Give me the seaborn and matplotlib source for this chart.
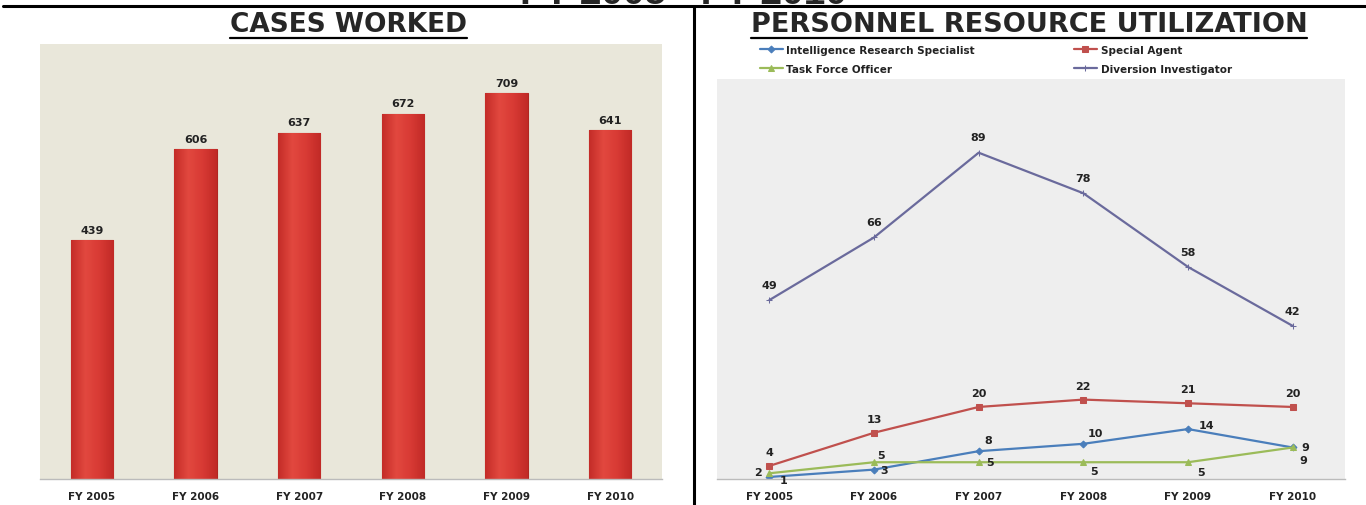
import pandas as pd
import numpy as np
import matplotlib
matplotlib.use("Agg")
import matplotlib.pyplot as plt
from matplotlib.lines import Line2D
from matplotlib.colors import LinearSegmentedColormap
import seaborn as sns

# data
years = ["FY 2005", "FY 2006", "FY 2007", "FY 2008", "FY 2009", "FY 2010"]
cases_worked = [439, 606, 637, 672, 709, 641]

irs = [1, 3, 8, 10, 14, 9]          # Intelligence Research Specialist
special_agent = [4, 13, 20, 22, 21, 20]
task_force = [2, 5, 5, 5, 5, 9]
diversion = [49, 66, 89, 78, 58, 42]

sns.set_style("white")
plt.rcParams['font.family'] = ['DejaVu Sans']

fig = plt.figure(figsize=(13.66, 5.06), dpi=100)
fig.patch.set_facecolor("white")

# ---------- left: cases worked ----------
ax1 = fig.add_axes([40 / 1366, 1 - 480 / 506, 622 / 1366, 435 / 506])
bars_df = pd.DataFrame({"year": years, "cases": cases_worked})
sns.barplot(data=bars_df, x="year", y="cases", ax=ax1, color="#d53530",
            saturation=1, width=0.41, edgecolor="#b02622", linewidth=0.8)
ax1.set_facecolor("#e9e7da")

# soft horizontal shading on each bar
shade = LinearSegmentedColormap.from_list("shade", ["#c42c28", "#e2483f", "#d83a34", "#c12a26"])
grad = np.linspace(0, 1, 64).reshape(1, -1)
for p in ax1.patches:
    im = ax1.imshow(grad, cmap=shade, aspect="auto", zorder=p.get_zorder() + 0.1,
                    extent=[p.get_x(), p.get_x() + p.get_width(), 0, p.get_height()])
    im.set_clip_path(p)
ax1.set_xlim(-0.5, 5.5)
ax1.set_ylim(0, 800)

for p, v in zip(ax1.patches, cases_worked):
    ax1.annotate(str(v), (p.get_x() + p.get_width() / 2, p.get_height()),
                 xytext=(0, 4), textcoords="offset points", ha="center",
                 va="bottom", fontsize=8, fontweight="bold", color="#222222")

# ---------- right: personnel ----------
ax2 = fig.add_axes([717 / 1366, 1 - 480 / 506, 628 / 1366, 400 / 506])
ax2.set_facecolor("#eeeeee")
series = [
    ("Intelligence Research Specialist", irs, "#4a7ebb", "D", 3.5),
    ("Task Force Officer", task_force, "#9bbb59", "^", 5),
    ("Special Agent", special_agent, "#c0504d", "s", 5),
    ("Diversion Investigator", diversion, "#6a6a9c", "+", 5),
]
xs = list(range(len(years)))
for name, vals, col, mk, ms in series:
    sns.lineplot(x=xs, y=vals, ax=ax2, color=col, marker=mk, markersize=ms,
                 markeredgecolor=col, linewidth=1.6, label=name)

# label offsets (points) per series, per point
offsets = {
    "Intelligence Research Specialist": [(10, -2), (7, 0), (7, 8), (9, 8), (13, 3), (8, -9)],
    "Task Force Officer": [(-8, 1), (5, 5), (8, 0), (8, -6), (9, -7), (9, 0)],
    "Special Agent": [(0, 10), (0, 10), (0, 10), (0, 10), (0, 10), (0, 10)],
    "Diversion Investigator": [(0, 11), (0, 11), (0, 11), (0, 11), (0, 11), (0, 11)],
}
for name, vals, col, mk, ms in series:
    for x, v, off in zip(xs, vals, offsets[name]):
        ax2.annotate(str(v), (x, v), xytext=off, textcoords="offset points",
                     ha="center", va="center", fontsize=8, fontweight="bold",
                     color="#222222")

ax2.set_xlim(-0.5, 5.5)
ax2.set_ylim(0.45, 109)
ax2.set_xticks(xs)
ax2.set_xticklabels(years)

leg = ax2.legend(loc="lower left", bbox_to_anchor=(0.06, 1.0), ncol=2,
                 frameon=False, fontsize=7.5, handlelength=2.2,
                 columnspacing=9.5, labelspacing=0.85, handletextpad=0.35,
                 borderaxespad=0.1)
for t in leg.get_texts():
    t.set_fontweight("bold")
    t.set_color("#222222")

for ax in (ax1, ax2):
    ax.set_xlabel("")
    ax.set_ylabel("")
    ax.set_yticks([])
    for s in ("top", "left", "right"):
        ax.spines[s].set_visible(False)
    ax.spines["bottom"].set_color("#bbbbbb")
    ax.spines["bottom"].set_linewidth(1)
    ax.set_xticks(np.arange(-0.5, 6, 1), minor=True)
    ax.tick_params(axis="x", which="major", length=0, pad=9, labelsize=7.5)
    ax.tick_params(axis="x", which="minor", length=4, color="#bbbbbb")
    for lab in ax.get_xticklabels():
        lab.set_fontweight("bold")
        lab.set_color("#222222")

# ---------- frame, titles ----------
fig.add_artist(Line2D([0.002, 1], [1 - 7 / 506] * 2, color="black", lw=2.2))
fig.add_artist(Line2D([694 / 1366] * 2, [0, 1 - 7 / 506], color="black", lw=2.2))
# page heading, mostly cut off at the top edge as in the reference
fig.text(0.5, 1 - 4 / 506, "FY 2005 - FY 2010", ha="center", va="baseline",
         fontsize=28, fontweight="bold", family="Liberation Sans")

titles = [(348 / 1366, "CASES WORKED", 19), (1029 / 1366, "PERSONNEL RESOURCE UTILIZATION", 19.5)]
fig.canvas.draw()
r = fig.canvas.get_renderer()
for x, txt, fs in titles:
    t = fig.text(x, 1 - 25 / 506, txt, ha="center", va="center", fontsize=fs,
                 fontweight="bold", family="DejaVu Sans")
    bb = t.get_window_extent(r).transformed(fig.transFigure.inverted())
    fig.add_artist(Line2D([bb.x0, bb.x1], [1 - 39 / 506] * 2, color="black", lw=1.6))

fig.savefig("out.png", dpi=100)
